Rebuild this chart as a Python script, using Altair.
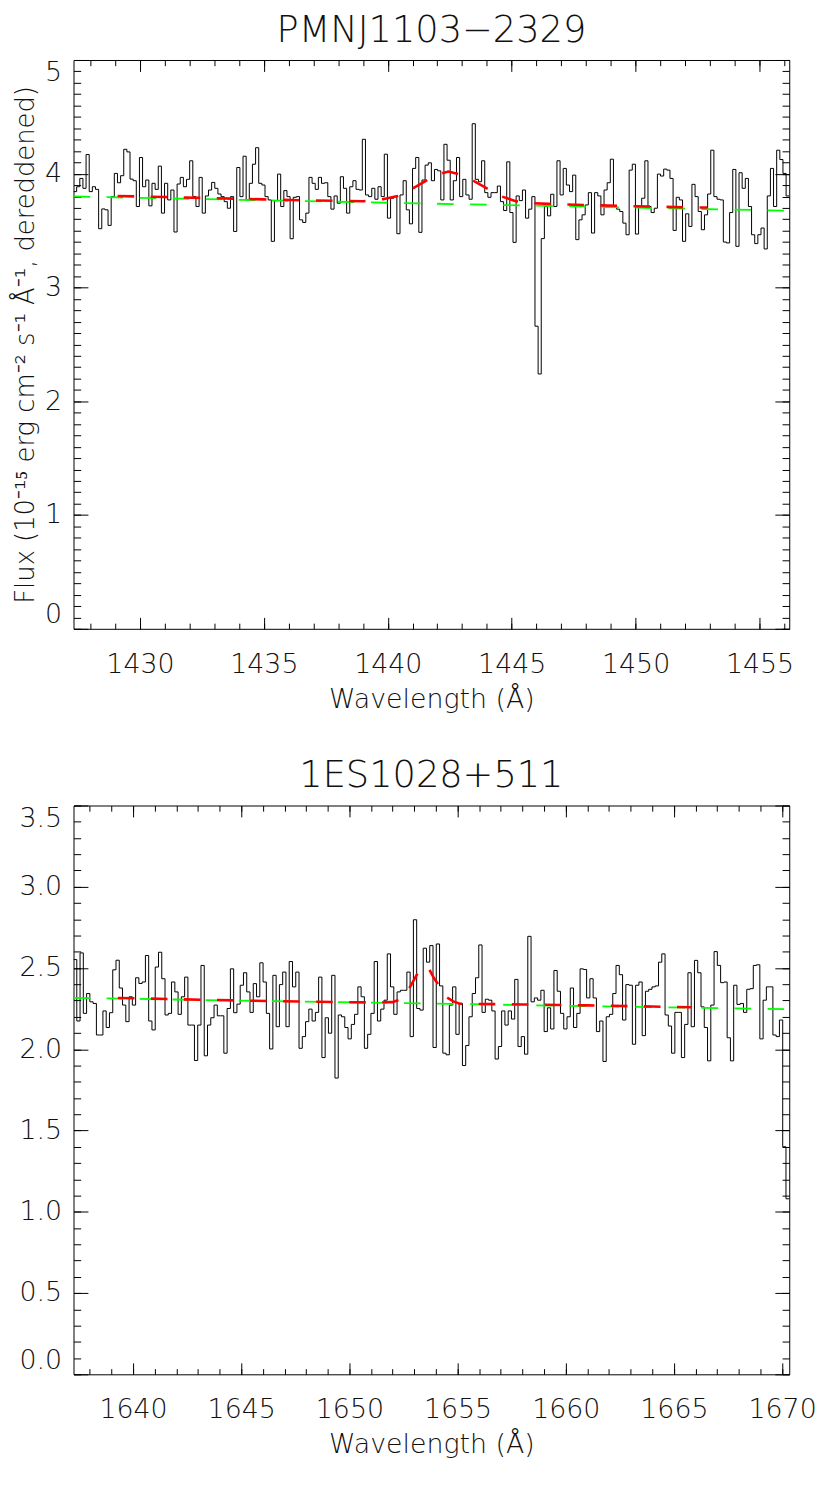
import altair as alt
import numpy as np
import pandas as pd

# ---------------- text ----------------
title_top = "PMNJ1103\u22122329"
title_bottom = "1ES1028+511"
x_title = "Wavelength (Å)"
y_title = "Flux (10\u207b\u00b9\u2075 erg cm\u207b\u00b2 s\u207b\u00b9 Å\u207b\u00b9, dereddened)"

# ---------------- top panel (PMNJ1103-2329) ----------------
top_wave_range = [1427.32, 1456.20]
top_flux_range = [0.0, 5.0]
top_flux = [
    3.843, 3.886, 3.959, 3.872, 4.169, 3.843, 3.886, 3.863, 3.517, 3.691,
    3.683, 3.546, 3.799, 4.003, 3.921, 3.983, 4.215, 4.192, 3.953, 3.939,
    3.712, 4.143, 3.886, 3.945, 3.718, 3.916, 3.863, 4.067, 3.654, 3.916,
    3.770, 3.857, 3.488, 3.910, 3.968, 3.886, 3.951, 4.114, 3.799, 3.712,
    3.968, 3.654, 3.805, 3.857, 3.924, 3.872, 3.822, 3.799, 3.755, 3.697,
    3.799, 3.493, 4.055, 3.799, 4.154, 3.770, 3.916, 4.084, 4.229,
    3.916, 3.901, 3.799, 3.770, 3.406, 3.764, 3.997, 3.712, 3.852, 3.799,
    3.429, 3.793, 3.799, 3.595, 3.572, 3.654, 3.968, 3.916, 3.863, 3.968,
    3.916, 3.921, 3.799, 3.689, 3.805, 3.741, 3.974, 3.872, 3.654, 3.886,
    3.939, 3.863, 3.857, 4.303, 3.814, 3.799, 3.872, 3.776, 3.886, 3.799,
    4.172, 3.610, 3.785, 3.799, 3.473, 3.814, 3.939, 3.683, 3.560, 4.047,
    4.143, 3.485, 3.945, 4.076, 4.096,
    3.939, 4.038, 4.026, 3.770, 4.259, 4.119, 3.770, 3.939, 4.143, 3.799,
    3.951, 3.814, 3.776, 4.440, 3.951, 3.930, 4.114, 3.834, 3.793, 3.834,
    3.834, 3.892, 3.755, 3.677, 4.105, 3.659, 3.397, 3.805, 3.764, 3.857,
    3.610, 3.689, 3.799,
    2.660, 2.240, 3.430,
    3.712, 3.630, 3.820, 3.712, 4.114, 3.814, 4.047, 3.901, 3.843, 3.988,
    3.421, 3.595, 3.639, 3.726, 3.834, 3.479, 3.834, 3.805, 3.639, 3.857,
    3.921,
    4.128, 3.718, 3.689, 3.668, 3.566, 3.464, 4.032, 4.084, 3.470, 3.712,
    3.785, 4.114, 3.712, 3.659, 3.697, 3.997, 3.980, 4.041, 4.032, 3.959,
    3.502, 3.793, 3.770, 3.406, 3.648, 3.537, 3.907, 3.799, 3.668, 3.508,
    3.639, 3.822, 4.207, 3.799, 3.776, 3.770, 3.400, 3.392, 3.659, 4.038,
    3.362, 4.009, 3.872, 3.959, 3.712, 3.464, 3.386, 3.464, 3.523, 3.339,
    3.805, 4.047, 3.712, 4.207, 4.125, 4.003, 3.805,
]
top_cont_wave = [1427.32, 1456.20]
top_cont_flux = [3.800, 3.675]
top_model_wave = [1429.1, 1431.0, 1433.0, 1435.0, 1437.0, 1439.0, 1439.8, 1440.4,
                  1441.0, 1441.6, 1442.1, 1442.45, 1442.8, 1443.4, 1444.0, 1444.6,
                  1445.2, 1445.8, 1446.5, 1448.0, 1450.0, 1452.0, 1452.9]
top_model_flux = [3.805, 3.795, 3.785, 3.775, 3.765, 3.758, 3.776, 3.805,
                  3.870, 3.945, 4.000, 4.020, 4.000, 3.945, 3.872, 3.800,
                  3.757, 3.742, 3.735, 3.725, 3.714, 3.706, 3.703]
top_x_major = [1430, 1435, 1440, 1445, 1450, 1455]
top_x_minor = list(range(1428, 1457))
top_y_major = [0, 1, 2, 3, 4, 5]
top_y_minor = [round(i * 0.1, 1) for i in range(0, 51)]

# ---------------- bottom panel (1ES1028+511) ----------------
bot_wave_range = [1637.25, 1670.33]
bot_flux_range = [0.0, 3.5]
bot_flux = [
    2.552, 2.174, 2.593, 2.221, 2.343, 2.292, 2.282, 2.088, 2.088, 2.236,
    2.134, 2.225, 2.489, 2.548, 2.377, 2.272, 2.170, 2.323, 2.272, 2.440,
    2.405, 2.414, 2.577, 2.174, 2.119, 2.506, 2.597, 2.434, 2.211, 2.221,
    2.414, 2.353, 2.215, 2.323, 2.444, 2.149, 2.149, 1.931, 2.149, 2.516,
    1.960, 2.149, 2.194, 2.272, 2.206, 2.206, 1.976, 2.251, 2.495, 2.225,
    2.278, 2.394, 2.471, 2.353, 2.227, 2.404, 2.323, 2.532, 2.414, 2.221,
    2.002, 2.455, 2.139, 2.398, 2.475, 2.139, 2.540, 2.384, 2.475, 2.006,
    2.078, 2.170, 2.247, 2.174, 2.227, 2.444, 1.949, 2.194, 2.099, 2.455,
    1.823, 2.211, 2.200, 2.134, 2.064, 2.153, 2.215, 2.384, 2.323, 2.006,
    2.092, 2.221, 2.540, 2.174, 2.247, 2.302, 2.587, 2.384, 2.215, 2.353,
    2.363, 2.363, 2.475, 2.078, 2.797,
    2.251, 2.241, 2.622, 2.536, 2.638, 2.011, 2.648, 2.390, 1.976, 1.966,
    2.272, 2.384, 2.092, 2.282, 1.900, 2.023, 2.200, 2.343, 2.440, 2.642,
    2.227, 2.308, 2.302, 2.236, 1.940, 2.017, 2.236, 2.149, 2.236, 2.186,
    2.430, 2.017, 2.078, 1.970, 2.695, 2.292, 2.316, 2.302, 2.363, 2.109,
    2.255, 2.125, 2.485, 2.357, 2.221, 2.125, 2.200, 2.377, 2.134, 2.221,
    2.495, 2.491, 2.316, 2.434, 2.316, 2.109, 2.174, 1.925, 2.200, 2.215,
    2.343, 2.516, 2.459, 2.180, 2.398, 2.394, 2.031, 2.394, 2.414, 2.084,
    2.357, 2.369, 2.384, 2.390, 2.536, 2.587, 2.211, 2.143, 1.976, 2.227,
    2.227, 1.949, 2.153, 2.471, 2.139, 2.547, 2.471, 2.261, 2.134, 1.929,
    2.272, 2.601, 2.516, 2.410, 2.414, 2.071, 1.929, 2.394, 2.276, 2.282,
    2.227, 2.369, 2.373, 2.516, 2.520, 2.064, 2.302, 2.384, 2.384, 2.088,
    2.078, 2.180, 1.400, 1.080,
]
bot_cont_wave = [1637.25, 1670.33]
bot_cont_flux = [2.316, 2.246]
bot_model_wave = [1639.3, 1642.0, 1645.0, 1648.0, 1651.0, 1652.0, 1652.4, 1652.75,
                  1653.0, 1653.2, 1653.45, 1653.7, 1653.9, 1654.1, 1654.3, 1654.5,
                  1654.8, 1655.1, 1658.0, 1661.0, 1664.0, 1665.8]
bot_model_flux = [2.316, 2.308, 2.300, 2.293, 2.288, 2.290, 2.310, 2.370,
                  2.430, 2.480, 2.510, 2.490, 2.440, 2.400, 2.350, 2.320,
                  2.295, 2.280, 2.276, 2.270, 2.263, 2.259]
bot_x_major = [1640, 1645, 1650, 1655, 1660, 1665, 1670]
bot_x_minor = list(range(1638, 1671))
bot_y_major = [0.0, 0.5, 1.0, 1.5, 2.0, 2.5, 3.0, 3.5]
bot_y_minor = [round(i * 0.1, 1) for i in range(0, 36)]

# ---------------- style ----------------
FONT = "DejaVu Sans"
TXT = "#111111"
W, H = 721, 573
XT_MAJ, XT_MIN = 11.5, 5.7     # tick lengths of x axes (vertical ticks)
YT_MAJ, YT_MIN = 14.5, 7.2     # tick lengths of y axes (horizontal ticks)


def hist_frame(wrange, flux):
    edges = np.linspace(wrange[0], wrange[1], len(flux) + 1)
    return pd.DataFrame({"wave": edges, "flux": list(flux) + [flux[-1]]})


def line_frame(w, f):
    return pd.DataFrame({"wave": w, "flux": f})


def tick_axis(orient, values, size):
    return alt.Axis(orient=orient, values=values, tickSize=size, offset=-size,
                    labels=False, domain=False, grid=False, title=None,
                    ticks=True, tickColor="#000000", tickWidth=1)


def panel(hist_df, cont_df, model_df, xdom, ydom, xmaj, xmin, ymaj, ymin,
          title, ytitle, yfmt):
    xs = alt.Scale(domain=xdom, nice=False, zero=False)
    ys = alt.Scale(domain=ydom, nice=False, zero=False)

    y_kw = dict(orient="left", values=ymaj, format=yfmt, ticks=False,
                domain=False, grid=False, labelPadding=12, labelFlush=True)
    if ytitle:
        yax = alt.Axis(title=ytitle, titlePadding=6, titleFontSize=26, **y_kw)
    else:
        yax = alt.Axis(title=None, **y_kw)
    xax = alt.Axis(orient="bottom", values=xmaj, format="d", ticks=False,
                   domain=False, grid=False, labelPadding=23,
                   title=x_title, titlePadding=9)

    hist = alt.Chart(hist_df).mark_line(
        interpolate="step-after", color="#000000", strokeWidth=1, clip=True
    ).encode(
        x=alt.X("wave:Q", scale=xs, axis=xax),
        y=alt.Y("flux:Q", scale=ys, axis=yax),
    )

    def ghost(xa, ya):
        return alt.Chart(cont_df).mark_line(strokeOpacity=0).encode(
            x=alt.X("wave:Q", scale=xs, axis=xa),
            y=alt.Y("flux:Q", scale=ys, axis=ya),
        )

    t1 = ghost(tick_axis("bottom", xmaj, XT_MAJ), tick_axis("left", ymaj, YT_MAJ))
    t2 = ghost(tick_axis("bottom", xmin, XT_MIN), tick_axis("left", ymin, YT_MIN))
    t3 = ghost(tick_axis("top", xmaj, XT_MAJ), tick_axis("right", ymaj, YT_MAJ))
    t4 = ghost(tick_axis("top", xmin, XT_MIN), tick_axis("right", ymin, YT_MIN))

    cont = alt.Chart(cont_df).mark_line(
        color="#00ff00", strokeWidth=1.8, strokeDash=[16.7, 16.6], clip=True
    ).encode(
        x=alt.X("wave:Q", scale=xs, axis=None),
        y=alt.Y("flux:Q", scale=ys, axis=None),
    )
    model = alt.Chart(model_df).mark_line(
        color="#ff0000", strokeWidth=2.6, strokeDash=[16.7, 16.6], clip=True
    ).encode(
        x=alt.X("wave:Q", scale=xs, axis=None),
        y=alt.Y("flux:Q", scale=ys, axis=None),
    )

    return alt.layer(t1, t2, t3, t4, hist, cont, model).resolve_axis(
        x="independent", y="independent"
    ).properties(
        width=W, height=H,
        title=alt.TitleParams(text=title, fontSize=37, font=FONT, color=TXT,
                              fontWeight=200, anchor="middle",
                              frame="group", baseline="alphabetic", offset=-19.5),
    )


top = panel(hist_frame(top_wave_range, top_flux),
            line_frame(top_cont_wave, top_cont_flux),
            line_frame(top_model_wave, top_model_flux),
            top_wave_range, top_flux_range, top_x_major, top_x_minor,
            top_y_major, top_y_minor, title_top, y_title, "d")

bottom = panel(hist_frame(bot_wave_range, bot_flux),
               line_frame(bot_cont_wave, bot_cont_flux),
               line_frame(bot_model_wave, bot_model_flux),
               bot_wave_range, bot_flux_range, bot_x_major, bot_x_minor,
               bot_y_major, bot_y_minor, title_bottom, None, ".1f")

chart = alt.vconcat(top, bottom, spacing=44).properties(
    padding={"left": 4, "top": -2, "right": 5, "bottom": 5}
).configure_view(
    stroke="#000000", strokeWidth=1
).configure_axis(
    labelFont=FONT, labelFontSize=27, labelColor=TXT, labelFontWeight=200,
    titleFont=FONT, titleFontSize=27, titleColor=TXT, titleFontWeight=200,
)

chart.save("out.html", embed_options={"renderer": "svg", "actions": False})
